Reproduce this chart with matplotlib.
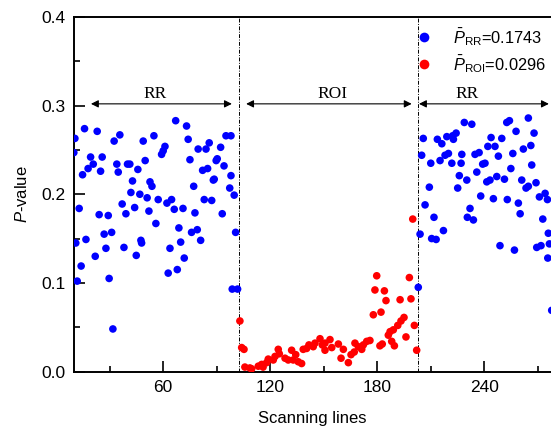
import matplotlib
matplotlib.use('Agg')
import matplotlib.pyplot as plt
from matplotlib.ticker import MultipleLocator
from matplotlib.lines import Line2D

# scanning line / p-value pairs
rr_x = [10.5, 15.9, 23.0, 32.5, 35.7, 48.8, 54.8, 9.9, 19.3, 25.8, 20.8, 17.9, 14.8, 24.9,
        34.0, 34.8, 40.0, 41.3, 45.8, 49.9, 42.8, 52.6, 53.7, 41.9, 46.9, 51.0, 57.2,
        12.9, 37.0, 44.0, 24.1, 29.2, 39.1, 52.0, 55.9, 26.9, 31.1, 16.7, 47.5, 11.0,
        21.9, 27.9, 38.0, 47.9, 44.9, 14.0, 11.8, 29.7, 31.8,
        67.0, 73.1, 74.0, 61.0, 60.0, 59.1, 79.6, 84.0, 85.8, 92.2, 95.2, 98.0, 75.0,
        90.3, 89.7, 82.1, 84.9, 94.1, 88.6, 88.1, 98.0, 77.1, 97.3, 99.8, 62.1, 64.7,
        66.2, 71.1, 83.0, 87.2, 77.8, 93.1, 68.8, 75.9, 79.1, 100.6, 63.8, 69.8, 81.0,
        71.8, 62.8, 67.9, 98.7, 101.7,
        203.0, 206.8, 205.8, 213.7, 216.2, 219.0, 222.3, 224.2, 222.7, 228.8, 233.0,
        204.9, 210.0, 215.2, 218.0, 219.9, 221.8, 227.4, 227.0, 234.8, 237.1, 239.1,
        240.4, 243.8, 242.0, 246.0, 249.8, 247.9, 252.6, 254.1, 257.8, 264.7, 267.9,
        256.0, 261.9, 266.1, 266.6, 235.8, 226.0, 230.2, 241.4, 243.2, 247.0, 251.3,
        254.9, 261.0, 269.0, 263.4, 264.7, 209.2, 225.1, 238.0, 245.1, 252.9, 259.1,
        270.9, 274.1, 275.4, 232.0, 230.5, 233.9, 211.8, 260.1, 272.8, 204.0, 210.5,
        213.0, 217.1, 275.9, 248.8, 256.9, 269.4, 271.8, 276.5, 275.6, 277.8]
rr_p = [0.263, 0.274, 0.271, 0.260, 0.267, 0.260, 0.266, 0.247, 0.242, 0.242, 0.234, 0.229,
        0.222, 0.226, 0.234, 0.225, 0.234, 0.234, 0.228, 0.238, 0.215, 0.214, 0.209, 0.202,
        0.200, 0.196, 0.194, 0.184, 0.189, 0.185, 0.177, 0.176, 0.178, 0.181, 0.167, 0.155,
        0.157, 0.149, 0.148, 0.145, 0.130, 0.139, 0.140, 0.145, 0.131, 0.119, 0.102, 0.105,
        0.048,
        0.283, 0.277, 0.262, 0.254, 0.249, 0.245, 0.251, 0.251, 0.258, 0.253, 0.266, 0.266,
        0.239, 0.240, 0.238, 0.227, 0.229, 0.232, 0.217, 0.216, 0.221, 0.209, 0.207, 0.199,
        0.190, 0.194, 0.183, 0.184, 0.194, 0.193, 0.179, 0.178, 0.162, 0.157, 0.160, 0.157,
        0.139, 0.146, 0.148, 0.128, 0.111, 0.115, 0.093, 0.093,
        0.095, 0.188, 0.263, 0.262, 0.257, 0.265, 0.266, 0.269, 0.262, 0.281, 0.279,
        0.244, 0.235, 0.238, 0.244, 0.246, 0.235, 0.245, 0.235, 0.245, 0.247, 0.234,
        0.235, 0.264, 0.254, 0.254, 0.263, 0.243, 0.281, 0.283, 0.271, 0.286, 0.269,
        0.246, 0.251, 0.255, 0.233, 0.225, 0.221, 0.216, 0.214, 0.216, 0.220, 0.217,
        0.229, 0.216, 0.213, 0.207, 0.209, 0.208, 0.207, 0.198, 0.195, 0.194, 0.190,
        0.197, 0.201, 0.194, 0.184, 0.174, 0.171, 0.174, 0.178, 0.172, 0.155, 0.150,
        0.149, 0.159, 0.156, 0.142, 0.137, 0.140, 0.142, 0.144, 0.128, 0.069]

roi_x = [103.0, 104.0, 105.3, 105.8, 108.6, 109.6, 113.3, 115.2, 116.0, 118.0, 118.9, 121.7,
         122.7, 124.5, 125.1, 128.3, 130.1, 132.0, 132.9, 134.3, 135.7, 137.6, 138.5, 140.4,
         141.7, 144.1, 145.1, 147.9, 149.2, 150.7, 153.5, 154.5, 150.7, 158.2, 161.0, 159.7,
         163.8, 165.3, 167.5, 169.4, 172.2, 174.1, 175.9, 171.3, 167.1,
         199.9, 179.7, 198.0, 178.7, 184.0, 184.9, 192.8, 198.9, 177.8, 182.1, 195.0, 193.3,
         191.5, 189.0, 187.2, 186.2, 200.8, 196.1, 189.6, 188.1, 181.5, 182.8, 202.1]
roi_p = [0.057, 0.027, 0.025, 0.005, 0.004, 0.003, 0.006, 0.008, 0.005, 0.010, 0.014, 0.013,
         0.017, 0.025, 0.020, 0.015, 0.013, 0.024, 0.013, 0.019, 0.011, 0.009, 0.025, 0.026,
         0.030, 0.028, 0.032, 0.037, 0.030, 0.024, 0.036, 0.027, 0.032, 0.031, 0.025, 0.015,
         0.010, 0.019, 0.032, 0.028, 0.030, 0.034, 0.035, 0.025, 0.022,
         0.172, 0.108, 0.106, 0.092, 0.091, 0.080, 0.081, 0.082, 0.064, 0.067, 0.061, 0.057,
         0.052, 0.047, 0.045, 0.041, 0.052, 0.039, 0.029, 0.034, 0.029, 0.031, 0.024]

mean_rr = 0.1743
mean_roi = 0.0296
bounds = [102.5, 203.0]

# region arrows: (start, end, label, label x)
regions = [(19.5, 98.5, 'RR', 55.4), (106.5, 199.3, 'ROI', 155.0), (203.4, 276.2, 'RR', 230.2)]

plt.rcParams['font.family'] = ['Liberation Sans', 'DejaVu Sans']
plt.rcParams['mathtext.fontset'] = 'custom'
plt.rcParams['mathtext.it'] = 'Liberation Sans:italic'
plt.rcParams['mathtext.rm'] = 'Liberation Sans'

fig = plt.figure(figsize=(5.51, 4.29), dpi=100)
ax = fig.add_axes([74 / 551, 57.5 / 429, 477 / 551, 354.5 / 429])

ax.scatter(rr_x, rr_p, s=30, color='#0000ff', edgecolors='none', zorder=3)
ax.scatter(roi_x, roi_p, s=30, color='#ff0000', edgecolors='none', zorder=3)

for b in bounds:
    ax.axvline(b, color='black', lw=0.7, ls=(0, (4, 1.5, 1, 1.5)), zorder=1)

for x0, x1, lab, xt in regions:
    ax.annotate('', xy=(x1, 0.302), xytext=(x0, 0.302),
                arrowprops=dict(arrowstyle='<|-|>', color='black', lw=0.8,
                                mutation_scale=11, shrinkA=0, shrinkB=0))
    ax.text(xt, 0.304, lab, ha='center', va='bottom', fontsize=12.5,
            family='Liberation Serif')

ax.set_xlim(10, 277.4)
ax.set_ylim(0, 0.4)
ax.xaxis.set_major_locator(MultipleLocator(60))
ax.xaxis.set_minor_locator(MultipleLocator(30))
ax.yaxis.set_major_locator(MultipleLocator(0.1))
ax.yaxis.set_minor_locator(MultipleLocator(0.05))
ax.yaxis.set_major_formatter(plt.FormatStrFormatter('%.1f'))
ax.tick_params(which='both', direction='in', top=False, right=False, labelsize=12.5, width=1.2)
ax.tick_params(which='major', length=8, pad=6)
ax.tick_params(which='minor', length=4.5)
for sp in ['left', 'bottom', 'top']:
    ax.spines[sp].set_linewidth(1.4)
ax.spines['right'].set_visible(False)

ax.set_xlabel('Scanning lines', fontsize=12, labelpad=12)
ax.set_ylabel('$P$-value', fontsize=12, labelpad=8)

handles = [Line2D([], [], ls='none', marker='o', ms=7, color='#0000ff', mec='none'),
           Line2D([], [], ls='none', marker='o', ms=7, color='#ff0000', mec='none')]
labels = [r'$\bar{P}_{\mathrm{RR}}$=%.4f' % mean_rr, r'$\bar{P}_{\mathrm{ROI}}$=%.4f' % mean_roi]
ax.legend(handles, labels, loc='upper left', bbox_to_anchor=(0.716, 0.975), frameon=False,
          fontsize=11.8, handlelength=1, handletextpad=1.3, borderpad=0, borderaxespad=0,
          labelspacing=0.32)

fig.savefig('out.png', dpi=100)
